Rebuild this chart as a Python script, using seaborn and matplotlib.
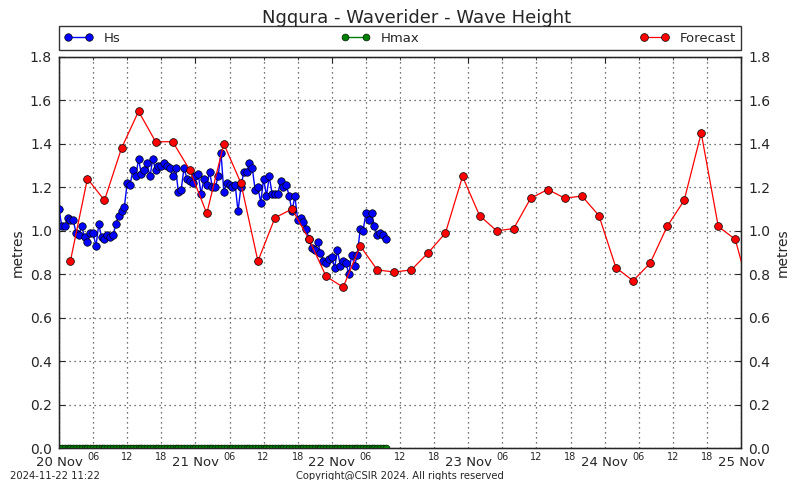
import numpy as np
import pandas as pd
import matplotlib
matplotlib.use("Agg")
import matplotlib.pyplot as plt
import matplotlib.dates as mdates
import seaborn as sns

title = "Ngqura - Waverider - Wave Height"
hs_start = "2024-11-20 00:00"
hs_values = [1.10, 1.02, 1.02, 1.06, 1.05, 1.05, 0.99, 0.98, 1.02, 0.97,
             0.95, 0.99, 0.99, 0.93, 1.03, 0.97, 0.96, 0.98, 0.97, 0.98,
             1.03, 1.07, 1.09, 1.11, 1.22, 1.21, 1.28, 1.25, 1.33, 1.26,
             1.28, 1.31, 1.25, 1.33, 1.28, 1.30, 1.30, 1.31, 1.30, 1.29,
             1.25, 1.29, 1.18, 1.19, 1.29, 1.24, 1.23, 1.22, 1.25, 1.26,
             1.17, 1.24, 1.21, 1.27, 1.20, 1.20, 1.25, 1.36, 1.18, 1.22,
             1.21, 1.20, 1.21, 1.09, 1.20, 1.27, 1.27, 1.31, 1.29, 1.19,
             1.20, 1.13, 1.24, 1.16, 1.25, 1.17, 1.17, 1.17, 1.23, 1.20,
             1.21, 1.16, 1.09, 1.16, 1.05, 1.06, 1.04, 1.01, 0.96, 0.92,
             0.91, 0.95, 0.90, 0.86, 0.85, 0.87, 0.88, 0.83, 0.91, 0.84,
             0.86, 0.85, 0.80, 0.89, 0.84, 0.89, 1.01, 1.00, 1.08, 1.05,
             1.08, 1.02, 0.98, 0.99, 0.98, 0.96]
hmax_values = [0.0] * len(hs_values)
fc_start = "2024-11-20 02:00"
fc_values = [0.86, 1.24, 1.14, 1.38, 1.55, 1.41, 1.41, 1.28, 1.08, 1.40,
             1.22, 0.86, 1.06, 1.10, 0.96, 0.79, 0.74, 0.93, 0.82, 0.81,
             0.82, 0.90, 0.99, 1.25, 1.07, 1.00, 1.01, 1.15, 1.19, 1.15,
             1.16, 1.07, 0.83, 0.77, 0.85, 1.02, 1.14, 1.45, 1.02, 0.96,
             0.67]
y_ticks = [0.0, 0.2, 0.4, 0.6, 0.8, 1.0, 1.2, 1.4, 1.6, 1.8]
x_start, x_end = "2024-11-20", "2024-11-25"

hs_t = pd.date_range(hs_start, periods=len(hs_values), freq="30min")
fc_t = pd.date_range(fc_start, periods=len(fc_values), freq="3h")
df_hs = pd.DataFrame({"t": hs_t, "v": hs_values})
df_hmax = pd.DataFrame({"t": hs_t, "v": hmax_values})
df_fc = pd.DataFrame({"t": fc_t, "v": fc_values})

sns.set_style("white")
plt.rcParams["font.family"] = ["DejaVu Sans"]

fig = plt.figure(figsize=(8, 4.8), dpi=100)
ax = fig.add_axes([59/800, 32/480, 682/800, 391/480])

sns.lineplot(data=df_hs, x="t", y="v", ax=ax, color="blue", marker="o",
             markersize=5.4, markeredgecolor="black", markeredgewidth=0.5,
             linewidth=1, label="Hs", zorder=3)
sns.lineplot(data=df_hmax, x="t", y="v", ax=ax, color="green", marker="o",
             markersize=5, markeredgecolor="black", markeredgewidth=0.4,
             linewidth=1, label="Hmax", zorder=3)
sns.lineplot(data=df_fc, x="t", y="v", ax=ax, color="red", marker="o",
             markersize=5.6, markeredgecolor="black", markeredgewidth=0.5,
             linewidth=0.9, label="Forecast", zorder=4)

ax.set_xlim(pd.Timestamp(x_start), pd.Timestamp(x_end))
ax.set_ylim(0, 1.8)
ax.set_yticks(y_ticks)
ax.set_yticklabels([f"{v:.1f}" for v in y_ticks], fontsize=10)
ax.set_xlabel("")
ax.set_ylabel("metres", fontsize=10)

ax.xaxis.set_major_locator(mdates.DayLocator())
ax.xaxis.set_major_formatter(mdates.DateFormatter("%d %b"))
ax.xaxis.set_minor_locator(mdates.HourLocator(byhour=[6, 12, 18]))
ax.xaxis.set_minor_formatter(mdates.DateFormatter("%H"))
ax.tick_params(axis="x", which="major", labelsize=9.5, direction="in",
               length=4, pad=6, top=True)
ax.tick_params(axis="x", which="minor", labelsize=7, direction="in",
               length=2, pad=3, top=True)
ax.tick_params(axis="y", direction="in", length=4, pad=5, right=False)

grid_kw = dict(linestyle=(0, (1, 3)), color="#444444", linewidth=0.9)
ax.grid(True, which="both", axis="x", **grid_kw)
ax.grid(True, which="major", axis="y", **grid_kw)
for s in ax.spines.values():
    s.set_color("black")
    s.set_linewidth(1)

ax2 = ax.twinx()
ax2.set_ylim(0, 1.8)
ax2.set_yticks(y_ticks)
ax2.set_yticklabels([f"{v:.1f}" for v in y_ticks], fontsize=10)
ax2.set_ylabel("metres", fontsize=10)
ax2.tick_params(axis="y", direction="in", length=4, pad=5)
ax2.grid(False)

leg = ax.legend(loc="lower left", bbox_to_anchor=(0, 1.018, 1, 0.061),
                mode="expand", ncol=3, borderaxespad=0, fontsize=9.5,
                frameon=True, fancybox=False, numpoints=2, handlelength=2.2)
leg.get_frame().set_edgecolor("black")
leg.get_frame().set_linewidth(1)

fig.text(417/800, 1 - 18/480, title, ha="center", va="center", fontsize=13)
fig.text(10/800, 1 - 476/480, "2024-11-22 11:22", ha="left",
         va="center", fontsize=7.2)
fig.text(0.5, 1 - 476/480, "Copyright@CSIR 2024. All rights reserved",
         ha="center", va="center", fontsize=7.2)

fig.savefig("out.png", dpi=100)
